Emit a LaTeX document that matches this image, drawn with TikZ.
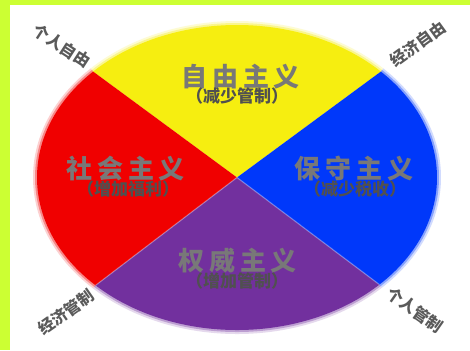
\documentclass[tikz,border=0pt]{standalone}
\usepackage{fontspec}
\newfontfamily\cjk{Noto Sans CJK SC}
\newfontfamily\cjkl[LetterSpace=18]{Noto Sans CJK SC}
\definecolor{bordergreen}{RGB}{204,255,51}
\definecolor{sy}{RGB}{246,238,16}
\definecolor{sr}{RGB}{240,0,0}
\definecolor{sb}{RGB}{0,56,250}
\definecolor{sp}{RGB}{114,48,158}
\definecolor{tgray}{RGB}{120,120,120}
\definecolor{sgray}{RGB}{80,80,80}
\definecolor{cgray}{RGB}{90,90,90}
\tikzset{
  title/.style={font=\cjkl\bfseries\fontsize{13}{14}\selectfont, text=tgray, inner sep=0pt},
  sub/.style={font=\cjk\bfseries\fontsize{8.5}{9}\selectfont, text=sgray, inner sep=0pt},
  corner/.style={font=\cjk\bfseries\fontsize{8}{8}\selectfont, text=cgray, inner sep=0pt},
}
\begin{document}
\begin{tikzpicture}[x=0.5pt,y=0.5pt]
\useasboundingbox (0,0) rectangle (470,350);
\fill[white] (0,0) rectangle (470,350);
\fill[bordergreen] (0,0) rectangle (10,350);
\fill[bordergreen] (0,345) rectangle (470,350);
\coordinate (C) at (237,172.5);
% halos
\foreach \c/\a/\b in {sy/44/136, sr/136/225, sp/225/315.4, sb/-44.6/44}{
  \draw[\c, line width=4pt, opacity=.18] (C) ++(\a:100pt and 76.25pt) arc[start angle=\a, end angle=\b, x radius=100pt, y radius=76.25pt];
  \draw[\c, line width=2pt, opacity=.35] (C) ++(\a:100pt and 76.25pt) arc[start angle=\a, end angle=\b, x radius=100pt, y radius=76.25pt];
}
% sectors
\fill[sy] (C) -- ++(44:100pt and 76.25pt) arc[start angle=44, end angle=136, x radius=100pt, y radius=76.25pt] -- cycle;
\fill[sr] (C) -- ++(136:100pt and 76.25pt) arc[start angle=136, end angle=225, x radius=100pt, y radius=76.25pt] -- cycle;
\fill[sp] (C) -- ++(225:100pt and 76.25pt) arc[start angle=225, end angle=315.4, x radius=100pt, y radius=76.25pt] -- cycle;
\fill[sb] (C) -- ++(-44.6:100pt and 76.25pt) arc[start angle=-44.6, end angle=44, x radius=100pt, y radius=76.25pt] -- cycle;
% light seams
\draw[white, opacity=.3, line width=0.6pt] (C) -- ++(225:100pt and 76.25pt);
\draw[white, opacity=.3, line width=0.6pt] (C) -- ++(-44.6:100pt and 76.25pt);
% labels
\node[title] (lib) at (241,273) {自由主义};
\node[sub] (libs) at (237,254) {（减少管制）};
\node[title] (soc) at (126,181) {社会主义};
\node[sub] (socs) at (128,161) {（增加福利）};
\node[title] (con) at (354,181) {保守主义};
\node[sub] (cons) at (355,161) {（减少税收）};
\node[title] (aut) at (238,89) {权威主义};
\node[sub] (auts) at (237,69) {（增加管制）};
\node[corner, rotate=-33] (tl) at (62,304) {个人自由};
\node[corner, rotate=36] (tr) at (418,306) {经济自由};
\node[corner, rotate=35] (bl) at (66,38) {经济管制};
\node[corner, rotate=-35] (br) at (415,40) {个人管制};
\end{tikzpicture}
\end{document}
